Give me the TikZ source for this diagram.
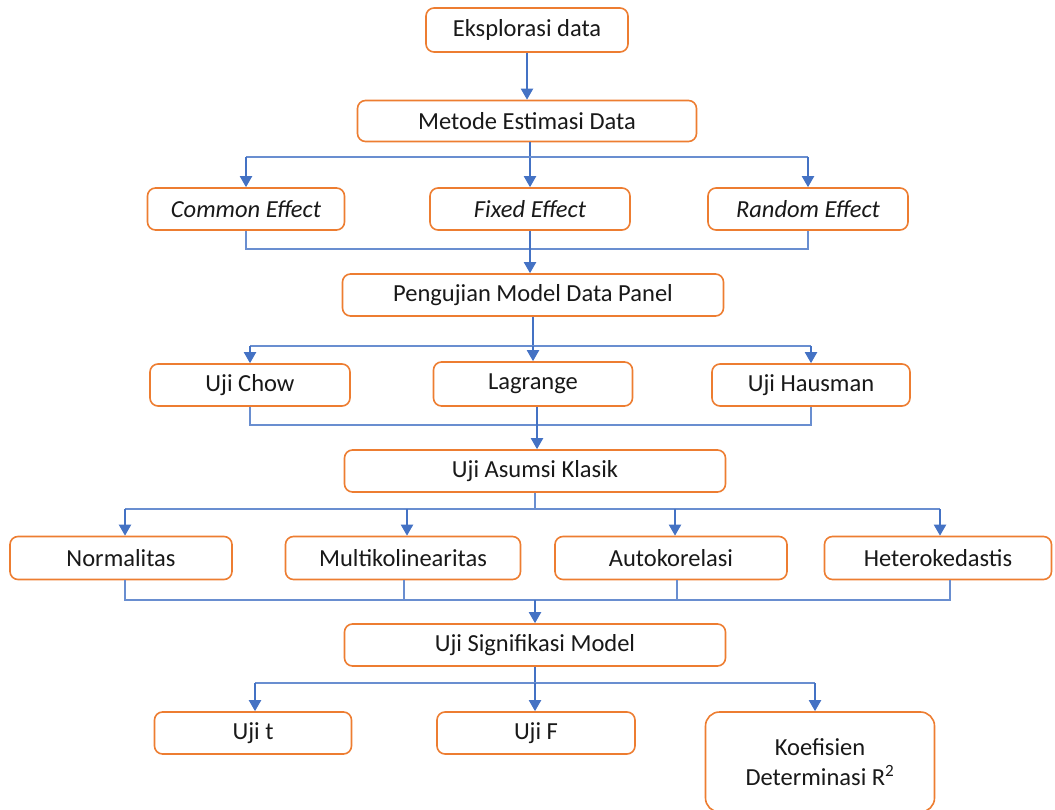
\documentclass[tikz,border=0pt]{standalone}
\usepackage{fontspec}
\setmainfont{Carlito}
\usetikzlibrary{arrows.meta}
\definecolor{boxor}{HTML}{ED7D31}
\definecolor{lnblue}{HTML}{4472C4}
\begin{document}
\begin{tikzpicture}[x=1pt,y=1pt,
  box/.style={draw=boxor, line width=1.6pt, rounded corners=8pt, fill=white,
    inner sep=0pt, font=\fontsize{24.5}{30}\selectfont, text=black!90},
  arr/.style={draw=lnblue, line width=2pt, -{Triangle[length=11pt,width=12pt]}},
  bar/.style={draw=lnblue!80, line width=1.1pt},
  thk/.style={draw=lnblue, line width=2pt}]
\useasboundingbox (0,0) rectangle (1055,-810);
% nodes
\node[box, minimum width=202pt, minimum height=44pt] (eks) at (527,-30) {Eksplorasi data};
\node[box, minimum width=339pt, minimum height=41pt] (met) at (527,-121) {Metode Estimasi Data};
\node[box, minimum width=197pt, minimum height=42pt] (ce) at (246,-209) {\itshape Common Effect};
\node[box, minimum width=200pt, minimum height=42pt] (fe) at (530,-209) {\itshape Fixed Effect};
\node[box, minimum width=200pt, minimum height=42pt] (re) at (808,-209) {\itshape Random Effect};
\node[box, minimum width=381pt, minimum height=42pt] (pmd) at (533,-295) {Pengujian Model Data Panel};
\node[box, minimum width=200pt, minimum height=42pt] (chow) at (250,-385) {Uji Chow};
\node[box, minimum width=199pt, minimum height=44pt] (lag) at (533,-384) {Lagrange};
\node[box, minimum width=198pt, minimum height=42pt] (haus) at (811,-385) {Uji Hausman};
\node[box, minimum width=381pt, minimum height=42pt] (uak) at (535,-471) {Uji Asumsi Klasik};
\node[box, minimum width=222pt, minimum height=43pt] (nor) at (121,-558) {Normalitas};
\node[box, minimum width=235pt, minimum height=43pt] (mul) at (403,-558) {Multikolinearitas};
\node[box, minimum width=232pt, minimum height=43pt] (aut) at (671,-558) {Autokorelasi};
\node[box, minimum width=227pt, minimum height=43pt] (het) at (938,-558) {Heterokedastis};
\node[box, minimum width=381pt, minimum height=42pt] (usm) at (535,-645) {Uji Signifikasi Model};
\node[box, minimum width=197pt, minimum height=42pt] (ujt) at (253,-733) {Uji t};
\node[box, minimum width=198pt, minimum height=42pt] (ujf) at (536,-733) {Uji F};
\node[box, minimum width=229pt, minimum height=100pt, rounded corners=14pt, align=center] (koe) at (820,-762) {Koefisien\\Determinasi R\textsuperscript{2}};
% bar levels
\coordinate (b1) at (0,-157);
\coordinate (b2) at (0,-249);
\coordinate (b3) at (0,-346);
\coordinate (b4) at (0,-425);
\coordinate (b5) at (0,-509);
\coordinate (b6) at (0,-600);
\coordinate (b7) at (0,-683);
% connectors
\draw[arr] (eks.south) -- (eks.south |- met.north);
\draw[arr] (fe.north |- met.south) -- (fe.north);
\draw[bar] (ce.north |- b1) -- (re.north |- b1);
\draw[arr] (ce.north |- b1) -- (ce.north);
\draw[arr] (re.north |- b1) -- (re.north);
\draw[bar] (ce.south) -- (ce.south |- b2) -- (re.south |- b2) -- (re.south);
\draw[arr] (fe.south) -- (fe.south |- pmd.north);
\draw[thk] (lag.north |- pmd.south) -- (lag.north |- b3);
\draw[bar] (chow.north |- b3) -- (haus.north |- b3);
\draw[arr] (chow.north |- b3) -- (chow.north);
\draw[arr] (lag.north |- b3) -- (lag.north);
\draw[arr] (haus.north |- b3) -- (haus.north);
\draw[bar] (chow.south) -- (chow.south |- b4) -- (haus.south |- b4) -- (haus.south);
\draw[arr] ([xshift=4pt]lag.south) -- ([xshift=4pt]lag.south |- uak.north);
\draw[bar] (uak.south) -- (uak.south |- b5);
\draw[bar] ([xshift=4pt]nor.north |- b5) -- ([xshift=2pt]het.north |- b5);
\draw[arr] ([xshift=4pt]nor.north |- b5) -- ([xshift=4pt]nor.north);
\draw[arr] ([xshift=4pt]mul.north |- b5) -- ([xshift=4pt]mul.north);
\draw[arr] ([xshift=4pt]aut.north |- b5) -- ([xshift=4pt]aut.north);
\draw[arr] ([xshift=2pt]het.north |- b5) -- ([xshift=2pt]het.north);
\draw[bar] ([xshift=4pt]nor.south) -- ([xshift=4pt]nor.south |- b6) -- ([xshift=12pt]het.south |- b6) -- ([xshift=12pt]het.south);
\draw[bar] ([xshift=1pt]mul.south) -- ([xshift=1pt]mul.south |- b6);
\draw[bar] ([xshift=6pt]aut.south) -- ([xshift=6pt]aut.south |- b6);
\draw[arr] (uak.south |- b6) -- (usm.north);
\draw[thk] (usm.south) -- (usm.south |- b7);
\draw[bar] ([xshift=2pt]ujt.north |- b7) -- ([xshift=-5pt]koe.north |- b7);
\draw[arr] ([xshift=2pt]ujt.north |- b7) -- ([xshift=2pt]ujt.north);
\draw[arr] (usm.south |- b7) -- (usm.south |- ujf.north);
\draw[arr] ([xshift=-5pt]koe.north |- b7) -- ([xshift=-5pt]koe.north);
\end{tikzpicture}
\end{document}
